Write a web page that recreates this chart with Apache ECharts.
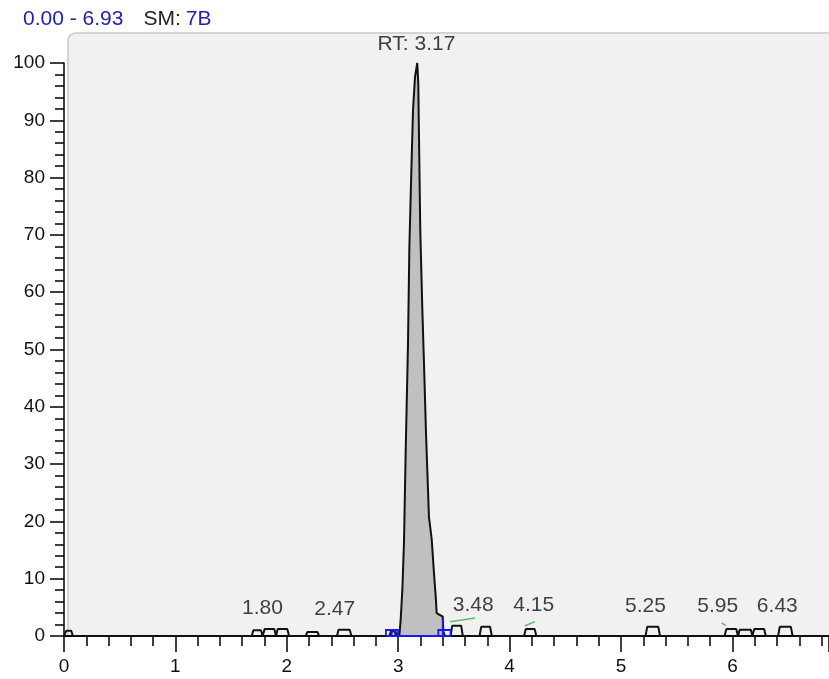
<!DOCTYPE html>
<html>
<head>
<meta charset="utf-8">
<script src="https://cdn.jsdelivr.net/npm/echarts@6/dist/echarts.min.js"></script>
<style>
  html, body { margin: 0; padding: 0; background: #fff; }
  #chart { width: 829px; height: 679px; }
</style>
</head>
<body>
<div id="chart"></div>
<script>
// 주 피크 (RT 3.17) 윤곽
const peakX = [3.010, 3.022, 3.037, 3.052, 3.067, 3.088, 3.100, 3.118, 3.133, 3.151, 3.171,
               3.180, 3.198, 3.216, 3.234, 3.250, 3.276, 3.301, 3.321, 3.339, 3.345, 3.400, 3.405, 3.420];
const peakY = [0, 2.8, 8.0, 16.4, 32.1, 51.1, 67.7, 81.3, 91.8, 97.6, 100,
               96.5, 70.9, 57.4, 45.9, 35.1, 20.8, 16.8, 11.0, 6.3, 4.0, 3.4, 0.8, 0];

// 작은 피크: [시작, 끝, 높이]
const bumpStart = [0.005, 1.685, 1.786, 1.903, 2.170, 2.450, 2.920, 3.470, 3.730, 4.130, 5.220, 5.930, 6.050, 6.180, 6.410];
const bumpEnd   = [0.080, 1.783, 1.903, 2.020, 2.290, 2.580, 2.990, 3.580, 3.840, 4.240, 5.350, 6.050, 6.180, 6.300, 6.540];
const bumpH     = [0.9,   1.0,   1.2,   1.2,   0.7,   1.1,   0.8,   1.8,   1.6,   1.2,   1.6,   1.2,   1.1,   1.2,   1.6];

// 피크 라벨
const labelText = ['RT: 3.17', '1.80', '2.47', '3.48', '4.15', '5.25', '5.95', '6.43'];
const labelX    = [3.164, 1.782, 2.430, 3.674, 4.216, 5.220, 5.868, 6.403];
const labelY    = [101.4, 3.1,   2.8,   3.6,   3.5,   3.3,   3.3,   3.3];

// 적분 표시 (파랑) / 라벨 연결선 (초록)
const blueMarks = [
    [[2.890, 0], [3.471, 0]],
    [[2.890, 0], [2.890, 1.05], [2.998, 1.05], [2.998, 0]],
    [[2.942, 0], [2.942, 1.05]],
    [[2.971, 0], [2.971, 1.05]],
    [[3.360, 0], [3.360, 1.05], [3.471, 1.05], [3.471, 0]],
    [[3.400, 0], [3.400, 3.0]]
];
const greenMarks = [
    [[3.465, 2.5], [3.689, 3.14]],
    [[4.138, 1.8], [4.228, 2.5]],
    [[5.904, 2.3], [5.940, 1.8]]
];

// 화면 오른쪽 끝에서 잘리는 x축 끝값
const X_MAX = 6.867;
const FONT = "'Liberation Sans', Arial, sans-serif";

// 전체 트레이스 구성 (기준선 + 작은 피크 + 주 피크)
const peakData = peakX.map((x, i) => [x, peakY[i]]);
let trace = [[0, 0]];
bumpStart.forEach((a, i) => {
    const b = bumpEnd[i];
    const h = bumpH[i];
    trace.push([a, 0], [a + 0.015, h], [b - 0.015, h], [b, 0]);
});
trace = trace.concat(peakData);
trace.push([X_MAX, 0]);
trace.sort((p, q) => p[0] - q[0]);

const chart = echarts.init(document.getElementById('chart'));

const option = {
    animation: false,
    backgroundColor: '#ffffff',
    textStyle: { fontFamily: FONT },
    title: {
        left: 18,
        top: 4,
        text: '{b|0.00 - 6.93}    {k|SM:} {b|7B}',
        textStyle: {
            fontWeight: 'normal',
            rich: {
                b: { color: '#2323a8', fontSize: 21, fontWeight: 'normal', fontFamily: FONT },
                k: { color: '#222222', fontSize: 21, fontWeight: 'normal', fontFamily: FONT }
            }
        }
    },
    graphic: [{
        type: 'rect',
        z: -10,
        silent: true,
        shape: { x: 68, y: 33, width: 800, height: 603, r: [8, 0, 0, 0] },
        style: { fill: '#f1f1f1', stroke: '#c9c9c9', lineWidth: 1.5 }
    }],
    grid: {
        left: 64,
        top: 63,
        right: 0,
        height: 573,
        containLabel: false
    },
    xAxis: {
        type: 'value',
        min: 0,
        max: X_MAX,
        interval: 1,
        axisLine: { lineStyle: { color: '#000', width: 2 } },
        axisTick: { length: 16, lineStyle: { color: '#000', width: 1.5 } },
        minorTick: { show: true, splitNumber: 5, length: 10, lineStyle: { color: '#000', width: 1.5 } },
        splitLine: { show: false },
        axisLabel: { margin: 21, fontSize: 19, color: '#111', fontFamily: FONT, showMaxLabel: false }
    },
    yAxis: {
        type: 'value',
        min: 0,
        max: 100,
        interval: 10,
        axisLine: { show: true, lineStyle: { color: '#000', width: 1.5 } },
        axisTick: { show: true, length: 14, lineStyle: { color: '#000', width: 1.5 } },
        minorTick: { show: true, splitNumber: 5, length: 9, lineStyle: { color: '#000', width: 1.5 } },
        splitLine: { show: false },
        axisLabel: { margin: 19, fontSize: 19, color: '#111', fontFamily: FONT }
    },
    series: [
        {
            // 주 피크 채움
            type: 'line',
            data: peakData,
            symbol: 'none',
            lineStyle: { width: 0 },
            areaStyle: { color: '#c0c0c0', opacity: 1 },
            z: 2
        },
        {
            // 크로마토그램 트레이스
            type: 'line',
            data: trace,
            symbol: 'none',
            lineStyle: { color: '#111', width: 2 },
            z: 3
        },
        {
            type: 'lines',
            coordinateSystem: 'cartesian2d',
            polyline: true,
            data: blueMarks.map(c => ({ coords: c })),
            lineStyle: { color: '#1a1ae6', width: 1.8, opacity: 1 },
            z: 4
        },
        {
            type: 'lines',
            coordinateSystem: 'cartesian2d',
            polyline: true,
            data: greenMarks.map(c => ({ coords: c })),
            lineStyle: { color: '#5cc05c', width: 1.5, opacity: 1 },
            z: 4
        },
        {
            // 피크 라벨
            type: 'scatter',
            clip: false,
            symbolSize: 0,
            data: labelX.map((x, i) => [x, labelY[i], labelText[i]]),
            label: {
                show: true,
                position: 'top',
                distance: 0,
                fontSize: 21,
                color: '#111',
                fontFamily: FONT,
                formatter: p => p.value[2]
            },
            z: 5
        }
    ]
};

chart.setOption(option);
</script>
</body>
</html>
